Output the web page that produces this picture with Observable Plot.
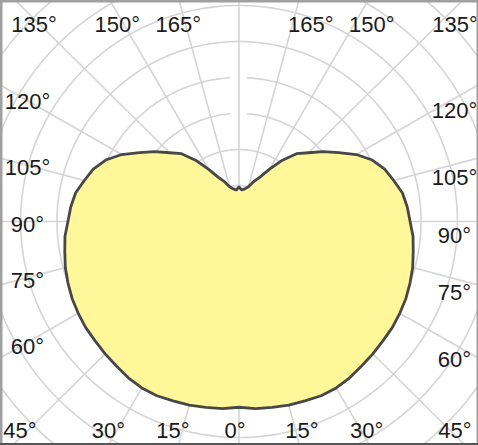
<!DOCTYPE html>
<html>
<head>
<meta charset="utf-8">
<script src="https://cdn.jsdelivr.net/npm/d3@7"></script>
<script src="https://cdn.jsdelivr.net/npm/@observablehq/plot@0.6"></script>
<style>
  html, body { margin: 0; padding: 0; background: #fff; }
  #chart svg { display: block; }
</style>
</head>
<body>
<div id="chart"></div>
<script>
// ---- data (polar intensity curve, symmetric about the vertical axis) ----
const curveAngles = [0, 5, 10, 15, 20, 25, 30, 35, 40, 45, 50, 55, 60, 65, 70, 75, 80, 85, 90,
  95, 100, 105, 110, 115, 120, 125, 130, 135, 140, 145, 150, 155, 160, 165, 170, 175, 180];
const curveValues = [258, 261, 262, 264, 265, 267, 267, 265, 262, 260, 258, 257, 255, 253, 250, 247, 243, 240, 235,
  232, 228, 220, 213, 202, 186, 167, 151, 135, 123, 104, 84, 68, 59, 50, 46, 44, 48];
const ringValues = [50, 100, 150, 200, 250, 300, 350, 400, 450];
const gappedRings = [150, 200];
const spokeAngles = d3.range(0, 360, 15);
const labelAngles = [0, 15, 30, 45, 60, 75, 90, 105, 120, 135, 150, 165];

// ---- layout ----
const W = 478, H = 445;
const cx = 238.5, cy = 221;          // pole position in px
const kx = 36.4 / 50, ky = 36.0 / 50; // px per unit
const box = {left: 27, right: 454, top: 24, bottom: 430}; // label band
const rad = d => d * Math.PI / 180;

// heart outline: right half 0->180, left half 180->0 (0° points down)
const outline = [
  ...curveAngles.map((a, i) => ({x: curveValues[i] * Math.sin(rad(a)), y: -curveValues[i] * Math.cos(rad(a))})),
  ...curveAngles.slice().reverse().map((a, j) => {
    const v = curveValues[curveAngles.length - 1 - j];
    return {x: -v * Math.sin(rad(a)), y: -v * Math.cos(rad(a))};
  })
];

// rings (angle phi measured from the top)
const ringPts = [];
for (const r of ringValues) {
  const g = gappedRings.includes(r) ? Math.asin(8 / (r * ky)) * 180 / Math.PI : 0;
  for (let p = g; p <= 360 - g + 1e-9; p += 1) {
    const pp = Math.min(p, 360 - g);
    ringPts.push({ring: r, x: r * Math.sin(rad(pp)), y: r * Math.cos(rad(pp))});
  }
}

const spokes = spokeAngles.map(a => ({x: 600 * Math.sin(rad(a)), y: -600 * Math.cos(rad(a))}));

// angle labels at the edges
const labels = [];
for (const a of labelAngles) {
  for (const s of (a === 0 ? [0] : [-1, 1])) {
    const ux = s * Math.sin(rad(a));
    const uy = Math.cos(rad(a)); // screen down positive
    const cand = [];
    if (ux > 1e-9) cand.push([(box.right - cx) / ux, "right"]);
    if (ux < -1e-9) cand.push([(box.left - cx) / ux, "left"]);
    if (uy > 1e-9) cand.push([(box.bottom - cy) / uy, "bottom"]);
    if (uy < -1e-9) cand.push([(box.top - cy) / uy, "top"]);
    cand.sort((p, q) => p[0] - q[0]);
    const [t, edge] = cand[0];
    const px = cx + t * ux, py = cy + t * uy;
    labels.push({text: a + "°", x: (px - cx) / kx, y: (cy - py) / ky, edge, side: s});
  }
}

const textStyle = {fontSize: 22, fontFamily: "'Liberation Sans', Arial, sans-serif", fill: "#1a1a1a", text: "text", x: "x", y: "y"};
const grid = "#d5d5d5";

const chart = Plot.plot({
  width: W,
  height: H,
  margin: 0,
  x: {domain: [-cx / kx, (W - cx) / kx], axis: null},
  y: {domain: [-(H - cy) / ky, cy / ky], axis: null},
  marks: [
    Plot.line(ringPts, {x: "x", y: "y", z: "ring", stroke: grid, strokeWidth: 1.6}),
    Plot.link(spokes, {x1: 0, y1: 0, x2: "x", y2: "y", stroke: grid, strokeWidth: 1.6}),
    Plot.line(outline, {x: "x", y: "y", fill: "#fff79a", stroke: "#474747", strokeWidth: 2.8, strokeLinejoin: "round"}),
    Plot.text(labels.filter(d => d.edge === "bottom" && d.side === 0), {...textStyle, dx: -4}),
    Plot.text(labels.filter(d => d.edge === "bottom" && d.side < 0), {...textStyle, dx: -10}),
    Plot.text(labels.filter(d => d.edge === "bottom" && d.side > 0), {...textStyle, dx: 7}),
    Plot.text(labels.filter(d => d.edge === "top" && d.side < 0), {...textStyle, dx: -8}),
    Plot.text(labels.filter(d => d.edge === "top" && d.side > 0), {...textStyle, dx: 19}),
    Plot.text(labels.filter(d => d.edge === "left"), {...textStyle, dy: 3}),
    Plot.text(labels.filter(d => d.edge === "right"), {...textStyle, dy: 14}),
    Plot.frame({stroke: "#a0a0a0", strokeWidth: 4}),
    Plot.ruleY([-(H - cy) / ky], {stroke: "#555", strokeWidth: 5})
  ]
});
document.getElementById("chart").appendChild(chart);
</script>
</body>
</html>
